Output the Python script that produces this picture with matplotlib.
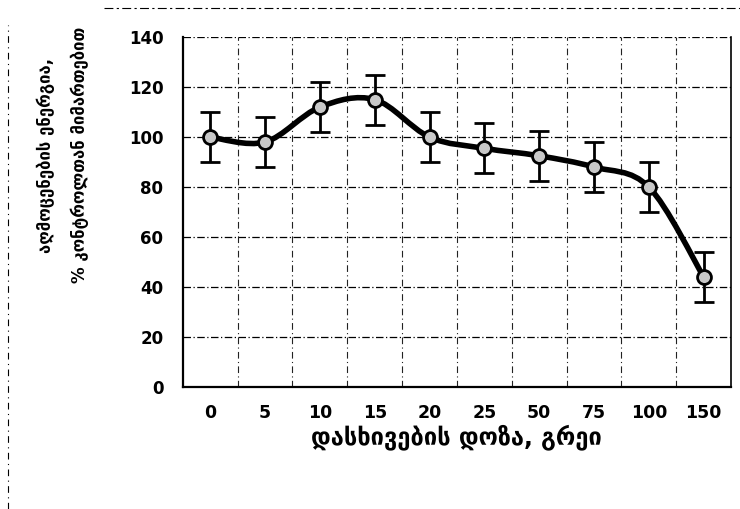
import numpy as np
import matplotlib
matplotlib.use("Agg")
import matplotlib.pyplot as plt
from matplotlib.path import Path
from matplotlib.patches import PathPatch
from matplotlib.lines import Line2D

# data
doses = ["0", "5", "10", "15", "20", "25", "50", "75", "100", "150"]
energy = [100, 98, 112, 115, 100, 95.5, 92.5, 88, 80, 44]
err = [10, 10, 10, 10, 10, 10, 10, 10, 10, 10]

yticks = [0, 20, 40, 60, 80, 100, 120, 140]
xlabel = "დასხივების დოზა, გრეი"
ylabel_1 = "აღმოცენების ენერგია,"
ylabel_2 = "% კონტროლთან მიმართებით"

plt.rcParams["font.family"] = ["DejaVu Sans"]


def smooth_path(x, y, k=1 / 6):
    """Catmull-Rom style smoothed path through the points (like Excel's smoothed line)."""
    verts = [(x[0], y[0])]
    codes = [Path.MOVETO]
    n = len(x)
    for i in range(n - 1):
        x0, y0 = (x[i - 1], y[i - 1]) if i > 0 else (x[i], y[i])
        x3, y3 = (x[i + 2], y[i + 2]) if i + 2 < n else (x[i + 1], y[i + 1])
        c1 = (x[i] + (x[i + 1] - x0) * k, y[i] + (y[i + 1] - y0) * k)
        c2 = (x[i + 1] - (x3 - x[i]) * k, y[i + 1] - (y3 - y[i]) * k)
        verts += [c1, c2, (x[i + 1], y[i + 1])]
        codes += [Path.CURVE4] * 3
    return Path(verts, codes)


fig = plt.figure(figsize=(7.4, 5.09), dpi=100)
ax = fig.add_axes([0.247, 0.240, 0.741, 0.687])

xpos = np.arange(len(doses))
ax.set_xlim(-0.5, len(doses) - 0.5)
ax.set_ylim(0, 140)

# grid: horizontal at ticks, vertical between categories
for yv in yticks[1:]:
    ax.axhline(yv, color="black", lw=0.9, ls=(0, (6, 2, 1, 2)), zorder=1)
for xv in xpos[:-1] + 0.5:
    ax.axvline(xv, color="#222222", lw=0.8, ls=(0, (6, 3, 1, 3)), zorder=1)

ax.errorbar(xpos, energy, yerr=err, fmt="none", ecolor="black",
            elinewidth=2, capsize=7, capthick=2, zorder=3)
ax.add_patch(PathPatch(smooth_path(xpos, energy), facecolor="none",
                       edgecolor="black", lw=4, zorder=4, capstyle="round"))
ax.plot(xpos, energy, ls="none", marker="o", ms=10, mfc="#c8c8c8",
        mec="black", mew=2, zorder=5)

ax.set_yticks(yticks)
ax.set_yticklabels([str(v) for v in yticks], fontsize=12, fontweight="bold")
ax.set_xticks(xpos)
ax.set_xticklabels(doses, fontsize=12.5, fontweight="bold")
ax.tick_params(axis="both", length=0)
ax.tick_params(axis="y", pad=14)
ax.tick_params(axis="x", pad=12)

ax.spines["top"].set_visible(False)
for side in ["left", "bottom", "right"]:
    ax.spines[side].set_linewidth(1.6)
ax.spines["right"].set_linewidth(1.2)

fig.text(0.617, 0.142, xlabel, ha="center", va="center",
         fontsize=17, fontweight="bold")
fig.text(0.062, 0.695, ylabel_1, ha="center", va="center", rotation=90,
         fontsize=12, fontweight="bold")
fig.text(0.108, 0.695, ylabel_2, ha="center", va="center", rotation=90,
         fontsize=12, fontweight="bold")

# scan border remnants
fig.add_artist(Line2D([0.14, 1.0], [0.984, 0.984], color="black", lw=0.8,
                      ls=(0, (8, 3, 2, 3)), transform=fig.transFigure))
fig.add_artist(Line2D([0.011, 0.011], [0.0, 0.95], color="black", lw=0.8,
                      ls=(0, (6, 4, 1, 4)), transform=fig.transFigure))

fig.savefig("out.png", dpi=100)
